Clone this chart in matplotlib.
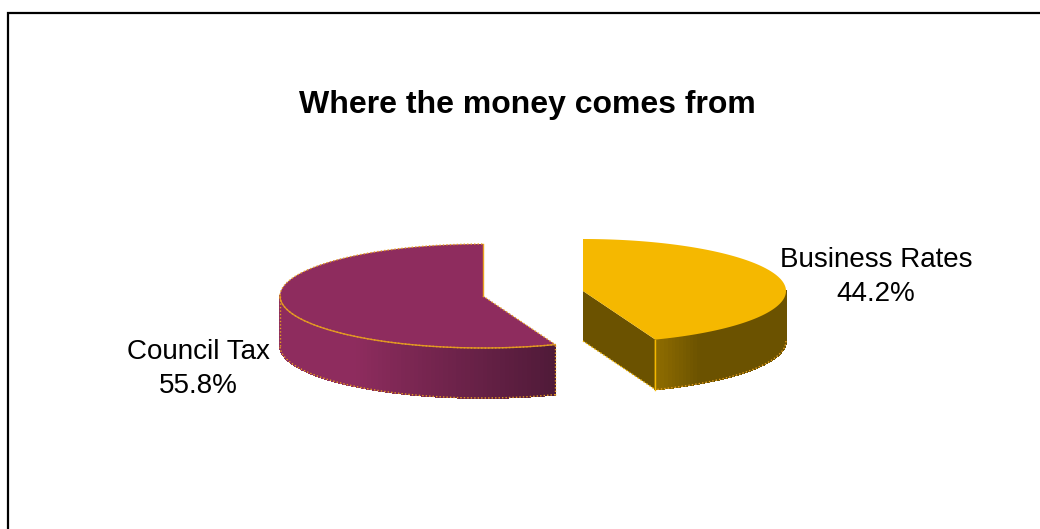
import numpy as np
import matplotlib
matplotlib.use('Agg')
import matplotlib.pyplot as plt
from matplotlib.patches import Polygon

plt.rcParams['font.family'] = ['Liberation Sans', 'DejaVu Sans']

title = 'Where the money comes from'
names = ['Council Tax', 'Business Rates']
shares = [55.8, 44.2]

# pie drawn in a pixel sized axes, y going down
W, H = 1040, 529
rx, ry, depth = 203, 52, 50
cx_tax, cy_tax = 483, 296
cx_biz, cy_biz = 583, 291

TAX_TOP = '#8e2c5e'
TAX_DARK = '#4f1a38'
BIZ_TOP = '#f5b800'
BIZ_SIDE = '#6b5200'
BIZ_LIGHT = '#8f6c00'
EDGE = '#e8a020'
DOTS = (0, (1, 1.5))


def rim(cx, cy, a0, a1, n=200):
    # angles are clockwise from twelve o'clock, in degrees
    a = np.radians(np.linspace(a0, a1, n))
    return cx + rx * np.sin(a), cy - ry * np.cos(a)


def mix(c0, c1, t):
    c0 = np.array(matplotlib.colors.to_rgb(c0))
    c1 = np.array(matplotlib.colors.to_rgb(c1))
    return tuple(c0 + (c1 - c0) * t)


def wall(cx, cy, a0, a1, col):
    # no antialiasing here, otherwise the strip seams show up as bands
    x, y = rim(cx, cy, a0, a1, 4)
    pts = np.r_[np.c_[x, y], np.c_[x[::-1], y[::-1] + depth]]
    ax.add_patch(Polygon(pts, fc=col, ec=col, lw=0.6, zorder=2, antialiased=False))


fig = plt.figure(figsize=(W / 100, H / 100), dpi=100)
ax = fig.add_axes([0, 0, 1, 1])
ax.set_xlim(0, W)
ax.set_ylim(H, 0)
ax.axis('off')

# frame only shows on the top and left, the rest runs off the figure
ax.plot([W, 8, 8], [13, 13, H], color='black', lw=1.6, solid_joinstyle='miter')

sweep_tax = 360 * shares[0] / sum(shares)
sweep_biz = 360 * shares[1] / sum(shares)

# Council Tax: sweeps anticlockwise from twelve o'clock
a0, a1 = 360 - sweep_tax, 360
xt, yt = rim(cx_tax, cy_tax, a0, a1)

# front wall, split in strips so it can darken towards the cut edge
edges = np.linspace(a0, 270, 90)
for i in range(len(edges) - 1):
    mid = (edges[i] + edges[i + 1]) / 2
    wall(cx_tax, cy_tax, edges[i], edges[i + 1], mix(TAX_DARK, TAX_TOP, np.clip((mid - a0) / 60, 0, 1)))

ax.add_patch(Polygon(np.r_[[[cx_tax, cy_tax]], np.c_[xt, yt]], fc=TAX_TOP, ec='none', zorder=3))
ax.plot(xt, yt, color=EDGE, lw=1.0, ls=DOTS, zorder=4)
xf, yf = rim(cx_tax, cy_tax, a0, 270)
ax.plot(xf, yf, color=EDGE, lw=1.0, zorder=4, alpha=0.9)
ax.plot(xf, yf + depth, color=EDGE, lw=1.0, ls=DOTS, zorder=4)
ax.plot([cx_tax, cx_tax], [cy_tax, cy_tax - ry], color=EDGE, lw=1.0, zorder=4)
ax.plot([cx_tax, xt[0]], [cy_tax, yt[0]], color=EDGE, lw=1.0, ls=DOTS, zorder=4)
ax.plot([xt[0], xt[0]], [yt[0], yt[0] + depth], color=EDGE, lw=1.0, ls=DOTS, zorder=4)
ax.plot([xf[-1], xf[-1]], [yf[-1], yf[-1] + depth], color=EDGE, lw=1.0, ls=DOTS, zorder=4)

# Business Rates: sweeps clockwise from twelve o'clock
xb, yb = rim(cx_biz, cy_biz, 0, sweep_biz)

# inner cut wall
apex = [cx_biz, cy_biz]
tip = [xb[-1], yb[-1]]
ax.add_patch(Polygon([apex, tip, [tip[0], tip[1] + depth], [apex[0], apex[1] + depth]], fc=BIZ_SIDE, ec='none', zorder=2))

# outer wall, lighter next to the cut edge
edges = np.linspace(90, sweep_biz, 60)
for i in range(len(edges) - 1):
    mid = (edges[i] + edges[i + 1]) / 2
    wall(cx_biz, cy_biz, edges[i], edges[i + 1], mix(BIZ_LIGHT, BIZ_SIDE, np.clip((sweep_biz - mid) / 14, 0, 1)))

ax.add_patch(Polygon(np.r_[[apex], np.c_[xb, yb]], fc=BIZ_TOP, ec='none', zorder=3))
xf, yf = rim(cx_biz, cy_biz, 90, sweep_biz)
ax.plot(xf, yf + depth, color=EDGE, lw=1.0, ls=DOTS, zorder=4)
ax.plot([tip[0], tip[0]], [tip[1], tip[1] + depth], color=BIZ_TOP, lw=1.0, zorder=4)
ax.plot([apex[0], tip[0]], [apex[1] + depth, tip[1] + depth], color=BIZ_TOP, lw=1.0, ls=DOTS, zorder=4)

ax.text(527, 105, title, ha='center', va='center', fontsize=23, fontweight='bold', color='black')
ax.text(198, 369, f'{names[0]}\n{shares[0]}%', ha='center', va='center', fontsize=20, color='black', linespacing=1.42)
ax.text(876, 277, f'{names[1]}\n{shares[1]}%', ha='center', va='center', fontsize=20, color='black', linespacing=1.42)

fig.savefig('out.png', dpi=100)
